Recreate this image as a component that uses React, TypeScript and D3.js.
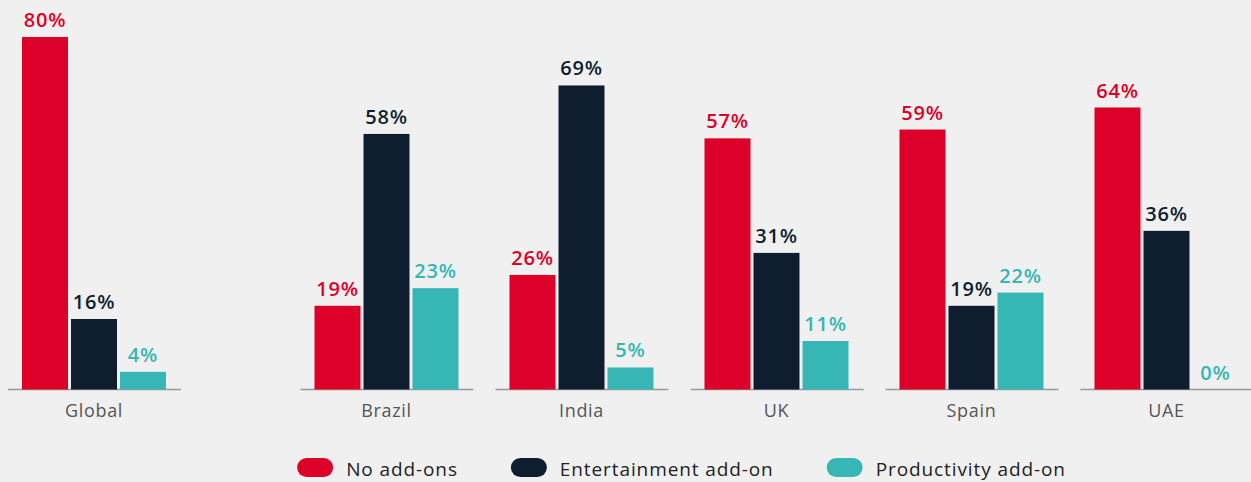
import React, { useEffect, useRef } from "react";
import * as d3 from "d3";

const categories = ["Global", "Brazil", "India", "UK", "Spain", "UAE"];
const seriesNames = ["No add-ons", "Entertainment add-on", "Productivity add-on"];
const noAddOns = [80, 19, 26, 57, 59, 64];
const entertainment = [16, 58, 69, 31, 19, 36];
const productivity = [4, 23, 5, 11, 22, 0];
const colors = ["#dd0029", "#0e1e2f", "#36b6b4"];

const W = 1251;
const H = 482;
const FONT = "'Open Sans', 'Noto Sans', sans-serif";

export default function App() {
  const ref = useRef<SVGSVGElement | null>(null);

  useEffect(() => {
    const svg = d3.select(ref.current);
    svg.selectAll("*").remove();
    svg.append("rect").attr("width", W).attr("height", H).attr("fill", "#f0f0f0");

    const values = [noAddOns, entertainment, productivity];
    // Global stands apart: one extra half-slot gap before the countries
    const slot = (i: number) => (i === 0 ? 0 : i + 0.5);
    const x = d3.scaleLinear().domain([0, 1]).range([22, 217]);
    const inner = d3.scaleBand<string>().domain(seriesNames).range([0, 144]).paddingInner(3 / 49);
    const y = d3.scaleLinear().domain([0, 80]).range([389.5, 37]);

    const g = svg.append("g");
    categories.forEach((cat, i) => {
      const gx = x(slot(i));
      const grp = g.append("g").attr("transform", `translate(${gx},0)`);
      grp.append("line")
        .attr("x1", -14).attr("x2", 144 + 15)
        .attr("y1", y(0)).attr("y2", y(0))
        .attr("stroke", "#999").attr("stroke-width", 1.6);
      seriesNames.forEach((s, j) => {
        const v = values[j][i];
        const bx = inner(s)!;
        grp.append("rect")
          .attr("x", bx).attr("width", inner.bandwidth())
          .attr("y", y(v)).attr("height", y(0) - y(v))
          .attr("fill", colors[j]);
        grp.append("text")
          .attr("x", bx + inner.bandwidth() / 2)
          .attr("y", y(v) - 10)
          .attr("text-anchor", "middle")
          .attr("font-family", FONT)
          .attr("font-weight", 600)
          .attr("font-size", 20)
          .attr("letter-spacing", 0.8)
          .attr("fill", colors[j])
          .text(`${v}%`);
      });
      grp.append("text")
        .attr("x", 72)
        .attr("y", 417)
        .attr("text-anchor", "middle")
        .attr("font-family", FONT)
        .attr("font-size", 18)
        .attr("letter-spacing", 0.7)
        .attr("fill", "#555")
        .text(cat);
    });

    const leg = svg.append("g");
    const items = seriesNames.map((name, j) => {
      const it = leg.append("g");
      it.append("rect")
        .attr("x", 0).attr("y", 458).attr("width", 36).attr("height", 19)
        .attr("rx", 9.5).attr("fill", colors[j]);
      const t = it.append("text")
        .attr("x", 49).attr("y", 476)
        .attr("font-family", FONT)
        .attr("font-size", 19)
        .attr("letter-spacing", 0.9)
        .attr("fill", "#222")
        .text(name);
      const tw = (t.node() as SVGTextElement).getComputedTextLength();
      return { it, w: 49 + tw };
    });
    const gap = 53;
    const total = d3.sum(items, (d) => d.w) + gap * (items.length - 1);
    let cx = 681.5 - total / 2;
    items.forEach((d) => {
      d.it.attr("transform", `translate(${cx},0)`);
      cx += d.w + gap;
    });
  }, []);

  return (
    <div style={{ position: "absolute", left: 0, top: 0 }}>
      <svg ref={ref} width={W} height={H} style={{ display: "block" }} />
    </div>
  );
}
